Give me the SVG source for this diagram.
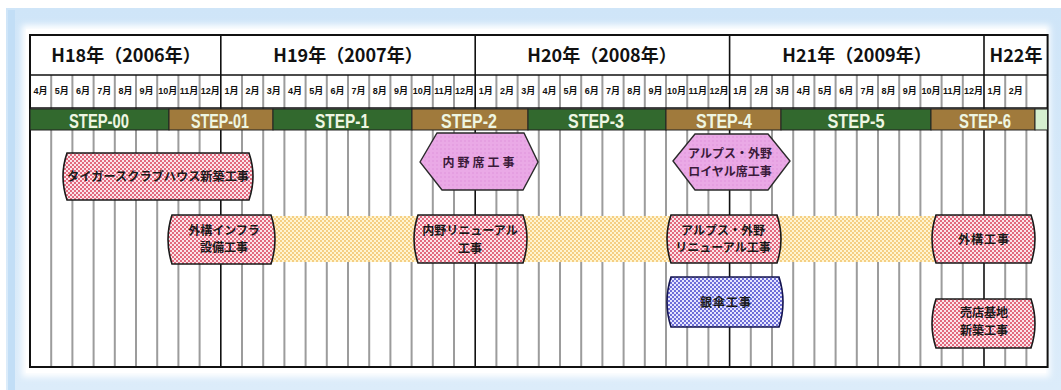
<svg xmlns="http://www.w3.org/2000/svg" width="1061" height="390" viewBox="0 0 1061 390">
<style>
.yr{font-family:"Noto Sans CJK JP","Liberation Sans",sans-serif;font-weight:bold;font-size:18px;fill:#111;text-anchor:middle}
.mo{font-family:"Liberation Sans","Noto Sans CJK JP",sans-serif;font-weight:bold;font-size:9px;fill:#111;text-anchor:middle}
.st{font-family:"Liberation Sans",sans-serif;font-weight:bold;font-size:21px;fill:#eef6e2;text-anchor:middle}
.nt{font-family:"Noto Sans CJK JP",sans-serif;font-weight:bold;font-size:12px;fill:#1a1a1a;text-anchor:middle}
.ht{font-family:"Noto Sans CJK JP",sans-serif;font-weight:bold;font-size:12px;fill:#3a1a3a;text-anchor:middle}
.g{stroke:#9c9c9c;stroke-width:2}
.yl{stroke:#111;stroke-width:1.6}
.box{stroke:#1a1a1a;stroke-width:1.6;fill:url(#pink)}
.hex{stroke:#2a2a2a;stroke-width:1.4;fill:url(#lilac)}
.sg{fill:#32692e;stroke:#222;stroke-width:1}
.sb{fill:#a07a3c;stroke:#222;stroke-width:1}
</style>
<defs>
<pattern id="pink" width="4" height="4" patternUnits="userSpaceOnUse"><rect width="4" height="4" fill="#fbe4ea"/><circle cx="1" cy="1" r="0.95" fill="#d8344f"/><circle cx="3" cy="3" r="0.95" fill="#d8344f"/></pattern>
<pattern id="blue" width="4" height="4" patternUnits="userSpaceOnUse"><rect width="4" height="4" fill="#e6e6ff"/><circle cx="1" cy="1" r="0.95" fill="#3a3ac8"/><circle cx="3" cy="3" r="0.95" fill="#3a3ac8"/></pattern>
<pattern id="yellow" width="4" height="4" patternUnits="userSpaceOnUse"><rect width="4" height="4" fill="#fff5d2"/><circle cx="1" cy="1" r="0.9" fill="#f1bd5e"/><circle cx="3" cy="3" r="0.9" fill="#f1bd5e"/></pattern>
<pattern id="lilac" width="4" height="4" patternUnits="userSpaceOnUse"><rect width="4" height="4" fill="#eaa9e6"/><circle cx="1" cy="1" r="0.7" fill="#dc8ed8"/></pattern>
<linearGradient id="fr" x1="0" y1="0" x2="0" y2="1"><stop offset="0" stop-color="#cfe5f8"/><stop offset="1" stop-color="#dcecfa"/></linearGradient>
<filter id="soft" x="-5%" y="-5%" width="110%" height="110%"><feGaussianBlur stdDeviation="3"/></filter>
</defs>
<rect width="1061" height="390" fill="#ffffff"/>
<rect x="6" y="8" width="1055" height="382" fill="url(#fr)"/>
<rect x="8" y="10" width="7" height="380" fill="#c2def6"/>
<rect x="22" y="25" width="1028" height="352" fill="#ffffff" filter="url(#soft)"/>
<rect x="26" y="29" width="1020" height="344" fill="#ffffff"/>
<g id="table">
<rect x="30" y="35" width="1017.6" height="332" fill="#ffffff"/>
<g id="grid">
<path class="g" d="M51.2 75V367M72.4 75V367M93.6 75V367M114.8 75V367M136 75V367M157.2 75V367M178.4 75V367M199.6 75V367M242 75V367M263.2 75V367M284.4 75V367M305.6 75V367M326.8 75V367M348 75V367M369.2 75V367M390.4 75V367M411.6 75V367M432.8 75V367M454 75V367M496.4 75V367M517.6 75V367M538.8 75V367M560 75V367M581.2 75V367M602.4 75V367M623.6 75V367M644.8 75V367M666 75V367M687.2 75V367M708.4 75V367M750.8 75V367M772 75V367M793.2 75V367M814.4 75V367M835.6 75V367M856.8 75V367M878 75V367M899.2 75V367M920.4 75V367M941.6 75V367M962.8 75V367M1005.2 75V367M1026.4 75V367"/>
<path class="yl" d="M220.8 35V367M475.2 35V367M729.6 35V367M984 35V367"/>
<path class="yl" d="M30 75H1047.6M30 108H1047.6"/>
<rect x="30" y="35" width="1017.6" height="332" fill="none" stroke="#111" stroke-width="2"/>
</g>
<g id="years">
<text class="yr" x="126" y="62">H18年（2006年）</text>
<text class="yr" x="348" y="62">H19年（2007年）</text>
<text class="yr" x="602" y="62">H20年（2008年）</text>
<text class="yr" x="857" y="62">H21年（2009年）</text>
<text class="yr" x="1016" y="62">H22年</text>
</g>
<g id="months">
<text class="mo" x="40.6" y="94">4月</text><text class="mo" x="61.8" y="94">5月</text><text class="mo" x="83" y="94">6月</text><text class="mo" x="104.2" y="94">7月</text><text class="mo" x="125.4" y="94">8月</text><text class="mo" x="146.6" y="94">9月</text><text class="mo" x="167.8" y="94">10月</text><text class="mo" x="189" y="94">11月</text><text class="mo" x="210.2" y="94">12月</text>
<text class="mo" x="231.4" y="94">1月</text><text class="mo" x="252.6" y="94">2月</text><text class="mo" x="273.8" y="94">3月</text><text class="mo" x="295" y="94">4月</text><text class="mo" x="316.2" y="94">5月</text><text class="mo" x="337.4" y="94">6月</text><text class="mo" x="358.6" y="94">7月</text><text class="mo" x="379.8" y="94">8月</text><text class="mo" x="401" y="94">9月</text><text class="mo" x="422.2" y="94">10月</text><text class="mo" x="443.4" y="94">11月</text><text class="mo" x="464.6" y="94">12月</text>
<text class="mo" x="485.8" y="94">1月</text><text class="mo" x="507" y="94">2月</text><text class="mo" x="528.2" y="94">3月</text><text class="mo" x="549.4" y="94">4月</text><text class="mo" x="570.6" y="94">5月</text><text class="mo" x="591.8" y="94">6月</text><text class="mo" x="613" y="94">7月</text><text class="mo" x="634.2" y="94">8月</text><text class="mo" x="655.4" y="94">9月</text><text class="mo" x="676.6" y="94">10月</text><text class="mo" x="697.8" y="94">11月</text><text class="mo" x="719" y="94">12月</text>
<text class="mo" x="740.2" y="94">1月</text><text class="mo" x="761.4" y="94">2月</text><text class="mo" x="782.6" y="94">3月</text><text class="mo" x="803.8" y="94">4月</text><text class="mo" x="825" y="94">5月</text><text class="mo" x="846.2" y="94">6月</text><text class="mo" x="867.4" y="94">7月</text><text class="mo" x="888.6" y="94">8月</text><text class="mo" x="909.8" y="94">9月</text><text class="mo" x="931" y="94">10月</text><text class="mo" x="952.2" y="94">11月</text><text class="mo" x="973.4" y="94">12月</text>
<text class="mo" x="994.6" y="94">1月</text><text class="mo" x="1015.8" y="94">2月</text>
</g>
<g id="steps">
<rect class="sg" x="30" y="109" width="139" height="21"/>
<rect class="sb" x="169" y="109" width="104" height="21"/>
<rect class="sg" x="273" y="109" width="139" height="21"/>
<rect class="sb" x="412" y="109" width="116" height="21"/>
<rect class="sg" x="528" y="109" width="138" height="21"/>
<rect class="sb" x="666" y="109" width="115" height="21"/>
<rect class="sg" x="781" y="109" width="150" height="21"/>
<rect class="sb" x="931" y="109" width="104" height="21"/>
<rect x="1035" y="109" width="12.6" height="21" fill="#d6efd0" stroke="#222" stroke-width="1"/>
<text class="st" x="99" y="127.5" textLength="60" lengthAdjust="spacingAndGlyphs">STEP-00</text>
<text class="st" x="220" y="127.5" textLength="58" lengthAdjust="spacingAndGlyphs">STEP-01</text>
<text class="st" x="342" y="127.5" textLength="54" lengthAdjust="spacingAndGlyphs">STEP-1</text>
<text class="st" x="469" y="127.5" textLength="56" lengthAdjust="spacingAndGlyphs">STEP-2</text>
<text class="st" x="596" y="127.5" textLength="56" lengthAdjust="spacingAndGlyphs">STEP-3</text>
<text class="st" x="724" y="127.5" textLength="56" lengthAdjust="spacingAndGlyphs">STEP-4</text>
<text class="st" x="856" y="127.5" textLength="57" lengthAdjust="spacingAndGlyphs">STEP-5</text>
<text class="st" x="985" y="127.5" textLength="52" lengthAdjust="spacingAndGlyphs">STEP-6</text>
</g>
</g>
<g id="band">
<rect x="170" y="216" width="765" height="46" fill="url(#yellow)"/>
</g>
<g id="connectors"></g>
<g id="n-tigers">
<path class="box" d="M67 153H249Q257 176.5 249 200H67Q59 176.5 67 153Z"/>
<text class="nt" x="158" y="180.5" textLength="182" lengthAdjust="spacingAndGlyphs">タイガースクラブハウス新築工事</text>
</g>
<g id="n-infra">
<path class="box" d="M172 215H271Q279 239.5 271 264H172Q164 239.5 172 215Z"/>
<text class="nt" x="224" y="235">外構インフラ</text>
<text class="nt" x="224" y="252">設備工事</text>
</g>
<g id="n-uchino-renewal">
<path class="box" d="M418 215H523Q531 239 523 263H418Q410 239 418 215Z"/>
<text class="nt" x="470" y="235">内野リニューアル</text>
<text class="nt" x="470" y="253">工事</text>
</g>
<g id="n-uchino-seat">
<polygon class="hex" points="420,162 437,133 524,133 538,162 523,190 442,190"/>
<text class="ht" x="480" y="167" font-size="14" letter-spacing="3">内野席工事</text>
</g>
<g id="n-alps-royal">
<polygon class="hex" points="673,161 695,134 768,134 790,161 768,190 695,190"/>
<text class="ht" x="730" y="158" font-size="11">アルプス・外野</text>
<text class="ht" x="730" y="176" font-size="12">ロイヤル席工事</text>
</g>
<g id="n-alps-renewal">
<path class="box" d="M671 215H777Q785 239 777 263H671Q663 239 671 215Z"/>
<text class="nt" x="723" y="235">アルプス・外野</text>
<text class="nt" x="723" y="252">リニューアル工事</text>
</g>
<g id="n-gaiko">
<path class="box" d="M936 215H1031Q1039 239 1031 263H936Q928 239 936 215Z"/>
<text class="nt" x="984" y="243.5" font-size="14" letter-spacing="1">外構工事</text>
</g>
<g id="n-ginsan">
<path d="M671 277H779Q787 302 779 327H671Q663 302 671 277Z" fill="url(#blue)" stroke="#141450" stroke-width="1.6"/>
<text class="nt" x="726" y="307" font-size="14" letter-spacing="1">銀傘工事</text>
</g>
<g id="n-baiten">
<path class="box" d="M936 299H1031Q1039 323.5 1031 348H936Q928 323.5 936 299Z"/>
<text class="nt" x="984" y="317" font-size="14">売店基地</text>
<text class="nt" x="984" y="335" font-size="14">新築工事</text>
</g>
</svg>
